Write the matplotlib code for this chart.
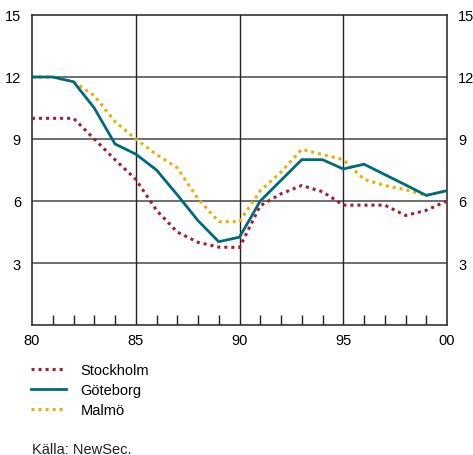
import numpy as np
import matplotlib
matplotlib.use('Agg')
from matplotlib import pyplot as plt
from matplotlib.ticker import MultipleLocator, FixedLocator

plt.rcParams['font.family'] = ['Liberation Sans', 'DejaVu Sans']

years = list(range(1980, 2001))
stockholm = [10, 10, 10, 9, 8.0, 7.05, 5.55, 4.5, 4.0, 3.77, 3.75,
             5.77, 6.35, 6.75, 6.45, 5.8, 5.8, 5.8, 5.3, 5.55, 6.0]
goteborg = [12, 12, 11.77, 10.5, 8.76, 8.27, 7.5, 6.3, 5.05, 4.03, 4.25,
            6.0, 7.0, 8.0, 8.0, 7.55, 7.78, 7.28, 6.78, 6.27, 6.5]
malmo = [12, 12, 11.77, 11.1, 9.84, 9.0, 8.25, 7.6, 6.1, 5.0, 5.0,
         6.5, 7.4, 8.5, 8.25, 8.0, 7.05, 6.75, 6.55, 6.27, 6.5]
yticks = [3, 6, 9, 12, 15]
xticks = [1980, 1985, 1990, 1995, 2000]
xlabels = ['80', '85', '90', '95', '00']

red = '#a61c34'
teal = '#006a7d'
yellow = '#e8b100'

fig = plt.figure(figsize=(4.73, 4.56), dpi=100)
ax = fig.add_axes([32/473, 130/456, 415/473, 310/456])

for y in yticks[:-1]:
    ax.axhline(y, color='#6e6e6e', lw=1.4, zorder=1)
for x in xticks[1:-1]:
    ax.axvline(x, color='#222222', lw=1.0, zorder=1)

ax.plot(years, stockholm, color=red, lw=2.2, linestyle=(0, (1, 1.3)), zorder=3, label='Stockholm')
ax.plot(years, malmo, color=yellow, lw=2.2, linestyle=(0, (1, 1.3)), zorder=2, label='Malmö')
ax.plot(years, goteborg, color=teal, lw=2.0, zorder=4, label='Göteborg')

ax.set_xlim(1980, 2000)
ax.set_ylim(0, 15)
ax.set_xticks(xticks)
ax.set_xticklabels(xlabels)
ax.xaxis.set_minor_locator(FixedLocator([y for y in years if y % 5 != 0]))
ax.tick_params(axis='x', which='major', length=0, pad=6, labelsize=10.5)
ax.tick_params(axis='x', which='minor', direction='in', length=7, width=1, color='#222222')
ax.set_yticks(yticks)
ax.tick_params(axis='y', which='major', length=0, pad=8, labelsize=10.5,
               left=True, right=True, labelleft=True, labelright=True)
for s in ax.spines.values():
    s.set_color('#333333')
    s.set_linewidth(1.2)

handles, labels = ax.get_legend_handles_labels()
order = [0, 2, 1]
fig.legend([handles[i] for i in order], [labels[i] for i in order],
           loc='upper left', bbox_to_anchor=(31/473, 1 - 364/456), frameon=False,
           borderpad=0, borderaxespad=0,
           fontsize=10.5, handlelength=2.4, handletextpad=1.0, labelspacing=0.42)

fig.text(32/473, 1 - 450/456, 'Källa: NewSec.', fontsize=10.5, va='center', ha='left', color='#222222')

fig.savefig('out.png', dpi=100)
